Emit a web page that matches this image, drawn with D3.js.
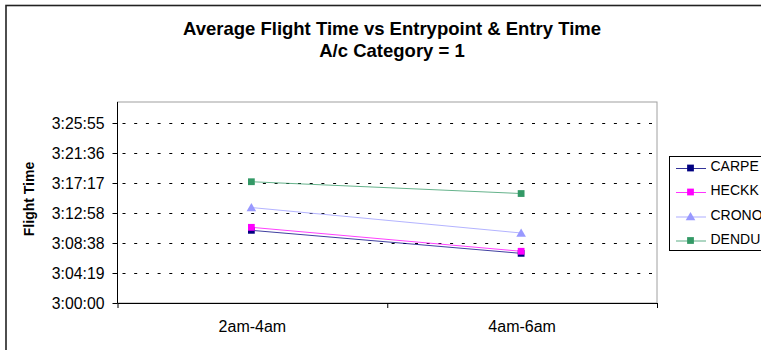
<!DOCTYPE html>
<html><head><meta charset="utf-8">
<script src="https://cdn.jsdelivr.net/npm/d3@7"></script>
<style>body{margin:0;background:#fff}svg{display:block}text{font-family:"Liberation Sans",Arial,sans-serif}</style>
</head><body>
<svg id="c" width="761" height="350"></svg>
<script>
const titleLines = ["Average Flight Time vs Entrypoint & Entry Time", "A/c Category = 1"];
const yTitle = "Flight Time";
const categories = ["2am-4am", "4am-6am"];
const seriesNames = ["CARPE", "HECKK", "CRONO", "DENDU"];
const seriesColors = ["#000080", "#FF00FF", "#9999FF", "#339966"];
const seriesMarkers = ["square", "square", "triangle", "square"];
const carpeValues = ["3:10:28", "3:07:09"];
const heckkValues = ["3:10:54", "3:07:27"];
const cronoValues = ["3:13:45", "3:10:05"];
const denduValues = ["3:17:28", "3:15:46"];
const yTickLabels = ["3:00:00", "3:04:19", "3:08:38", "3:12:58", "3:17:17", "3:21:36", "3:25:55"];
const yMin = "3:00:00", yMax = "3:28:57";
const yStepSeconds = 259.2;

const toSec = s => { const p = s.split(":").map(Number); return p[0]*3600 + p[1]*60 + p[2]; };
const allValues = [carpeValues, heckkValues, cronoValues, denduValues];
const series = seriesNames.map((n, i) => ({name: n, color: seriesColors[i], marker: seriesMarkers[i],
  values: allValues[i].map((v, j) => ({cat: categories[j], sec: toSec(v)}))}));

const svg = d3.select("#c");
const L = 117.5, R = 657, T = 102, B = 303;

// chart area border
svg.append("rect").attr("x", 6).attr("y", 5.5).attr("width", 820).attr("height", 400)
  .attr("fill", "#fff").attr("stroke", "#222").attr("stroke-width", 1.6);

const x = d3.scaleBand().domain(categories).range([L, R]).padding(0);
const xEdge = d3.scaleLinear().domain([0, categories.length]).range([L, R]);
const y = d3.scaleLinear().domain([toSec(yMin), toSec(yMax)]).range([B, T]);
const yTicks = yTickLabels.map((t, i) => toSec(yMin) + i * yStepSeconds);

// plot area frame (top/right gray)
svg.append("rect").attr("x", L).attr("y", T).attr("width", R - L).attr("height", B - T)
  .attr("fill", "#fff").attr("stroke", "#a0a0a0").attr("stroke-width", 1);

// gridlines
svg.append("g").selectAll("line").data(yTicks.slice(1)).join("line")
  .attr("x1", L).attr("x2", R - 1)
  .attr("y1", d => Math.round(y(d)) + 0.5).attr("y2", d => Math.round(y(d)) + 0.5)
  .attr("stroke", "#000").attr("stroke-width", 1).attr("stroke-dasharray", "3,8.7")
  .attr("stroke-dashoffset", -5);

// y axis
const yAxis = d3.axisLeft(y).tickValues(yTicks).tickSize(5).tickPadding(8)
  .tickFormat((d, i) => yTickLabels[i]);
const gy = svg.append("g").attr("transform", `translate(${L},0)`).call(yAxis);
gy.select(".domain").attr("stroke", "#000").attr("d", `M0,${T}V${B}`);
gy.selectAll(".tick line").attr("stroke", "#000");
gy.selectAll(".tick").attr("transform", d => `translate(0,${Math.round(y(d)) + 0.5})`);
gy.selectAll("text").attr("font-size", 15.8).attr("fill", "#000")
  .attr("font-family", '"Liberation Sans",Arial,sans-serif');

// x axis
const gxe = svg.append("g").attr("transform", `translate(0,${B})`)
  .call(d3.axisBottom(xEdge).tickValues(d3.range(categories.length + 1)).tickSize(5).tickFormat(""));
gxe.select(".domain").attr("stroke", "#000").attr("d", `M${L},0.5H${R}`);
gxe.selectAll(".tick line").attr("stroke", "#000");
const gx = svg.append("g").attr("transform", `translate(0,${B})`)
  .call(d3.axisBottom(x).tickSize(0).tickPadding(18));
gx.select(".domain").remove();
gx.selectAll("text").attr("font-size", 16).attr("fill", "#000")
  .attr("font-family", '"Liberation Sans",Arial,sans-serif');

// titles
svg.append("g").selectAll("text").data(titleLines).join("text")
  .attr("x", 392).attr("y", (d, i) => 35 + i * 21.7).attr("text-anchor", "middle")
  .attr("font-weight", "bold").attr("font-size", 18.5).text(d => d);
svg.append("text").attr("transform", "translate(34,199) rotate(-90)")
  .attr("text-anchor", "middle").attr("font-weight", "bold").attr("font-size", 14).text(yTitle);

// series
const cx = c => x(c) + x.bandwidth() / 2 - 1;
const line = d3.line().x(d => cx(d.cat)).y(d => y(d.sec));
const sym = m => d3.symbol().type(m === "triangle" ? d3.symbolTriangle : d3.symbolSquare).size(m === "triangle" ? 40 : 46);
const gs = svg.append("g").selectAll("g").data(series).join("g");
gs.append("path").attr("d", d => line(d.values)).attr("fill", "none")
  .attr("stroke", d => d.color).attr("stroke-width", 1).attr("stroke-opacity", 0.75);
gs.each(function(s) {
  d3.select(this).selectAll("path.m").data(s.values).join("path").attr("class", "m")
    .attr("d", sym(s.marker)()).attr("fill", s.color)
    .attr("transform", d => `translate(${cx(d.cat)},${y(d.sec) + (s.marker === "triangle" ? 1 : 0)})`);
});

// legend
const lg = svg.append("g");
lg.append("rect").attr("x", 669.5).attr("y", 156.5).attr("width", 120).attr("height", 94)
  .attr("fill", "#fff").attr("stroke", "#000").attr("stroke-width", 1);
const ly = [168, 192, 216.5, 240.5];
const le = lg.selectAll("g").data(series).join("g").attr("transform", (d, i) => `translate(0,${ly[i]})`);
le.append("line").attr("x1", 676).attr("x2", 706).attr("y1", 0.5).attr("y2", 0.5)
  .attr("stroke", d => d.color).attr("stroke-width", 1).attr("stroke-opacity", 0.8);
le.append("path").attr("d", d => sym(d.marker)()).attr("fill", d => d.color)
  .attr("transform", d => `translate(690.5,${d.marker === "triangle" ? 1 : 0})`);
le.append("text").attr("x", 710.5).attr("y", 3).attr("font-size", 14).text(d => d.name);
</script>
</body></html>
